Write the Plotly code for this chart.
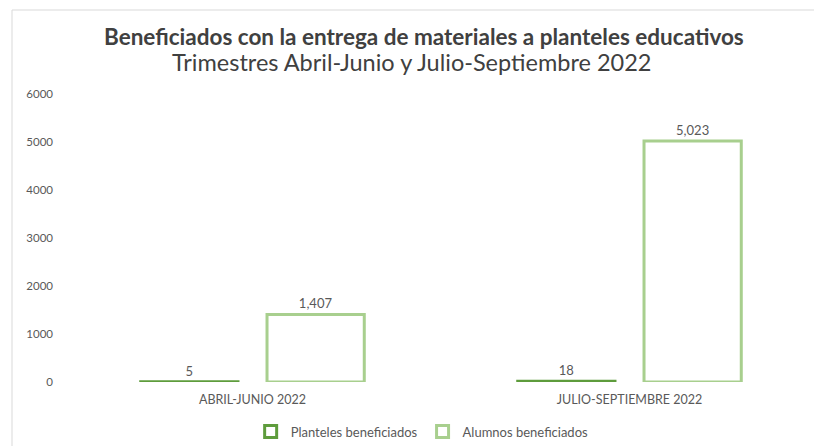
import plotly.graph_objects as go

categories = ["ABRIL-JUNIO 2022", "JULIO-SEPTIEMBRE 2022"]
planteles = [5, 18]
alumnos = [1407, 5023]
series_names = ["Planteles beneficiados", "Alumnos beneficiados"]
y_ticks = [0, 1000, 2000, 3000, 4000, 5000, 6000]

FONT = "Lato, Open Sans, sans-serif"
GRAY = "#595959"

fig = go.Figure()
fig.add_trace(go.Bar(
    x=categories, y=planteles, name=series_names[0],
    marker=dict(color="white", line=dict(color="#5E9C3C", width=3)),
    texttemplate="%{y:,}", textposition="outside",
    textfont=dict(size=13, color=GRAY, family=FONT), cliponaxis=False,
))
fig.add_trace(go.Bar(
    x=categories, y=alumnos, name=series_names[1],
    marker=dict(color="white", line=dict(color="#A8CF8E", width=3)),
    texttemplate="%{y:,}", textposition="outside",
    textfont=dict(size=13, color=GRAY, family=FONT), cliponaxis=False,
))

fig.update_layout(
    width=822, height=446,
    margin=dict(l=56, r=12, t=86, b=72, autoexpand=False),
    paper_bgcolor="white", plot_bgcolor="white",
    barmode="group", bargap=0.33, bargroupgap=0.23,
    font=dict(family=FONT, color=GRAY),
    showlegend=True,
    legend=dict(orientation="h", x=0.475, xanchor="center", y=-0.12, yanchor="top",
                font=dict(size=13, color=GRAY, family=FONT), traceorder="normal",
                itemwidth=30),
    xaxis=dict(range=[-0.5, 1.5], showgrid=False, showline=False, zeroline=False,
               tickfont=dict(size=12.5, color=GRAY, family=FONT), ticks="",
               ticklabelstandoff=8),
    yaxis=dict(range=[0, 6000], tickvals=y_ticks, tickformat="d", showgrid=False,
               showline=False, zeroline=False,
               tickfont=dict(size=11.5, color=GRAY, family=FONT), ticks="",
               ticklabelstandoff=10),
    annotations=[
        dict(text="<b>Beneficiados con la entrega de materiales a planteles educativos</b>",
             xref="paper", yref="paper", x=(424 - 64) / 754, y=(382 - 36) / 288,
             xanchor="center", yanchor="middle", showarrow=False,
             font=dict(size=22.5, color="#404040", family=FONT)),
        dict(text="Trimestres Abril-Junio y Julio-Septiembre 2022",
             xref="paper", yref="paper", x=(411 - 64) / 754, y=(382 - 62) / 288,
             xanchor="center", yanchor="middle", showarrow=False,
             font=dict(size=23.5, color="#404040", family=FONT)),
    ],
    shapes=[
        dict(type="rect", xref="paper", yref="paper",
             x0=(12 - 64) / 754, x1=1.02, y0=-0.5, y1=(382 - 10) / 288,
             line=dict(color="#D9D9D9", width=1), fillcolor="rgba(0,0,0,0)", layer="below"),
    ],
)

fig.write_html("out.html")
